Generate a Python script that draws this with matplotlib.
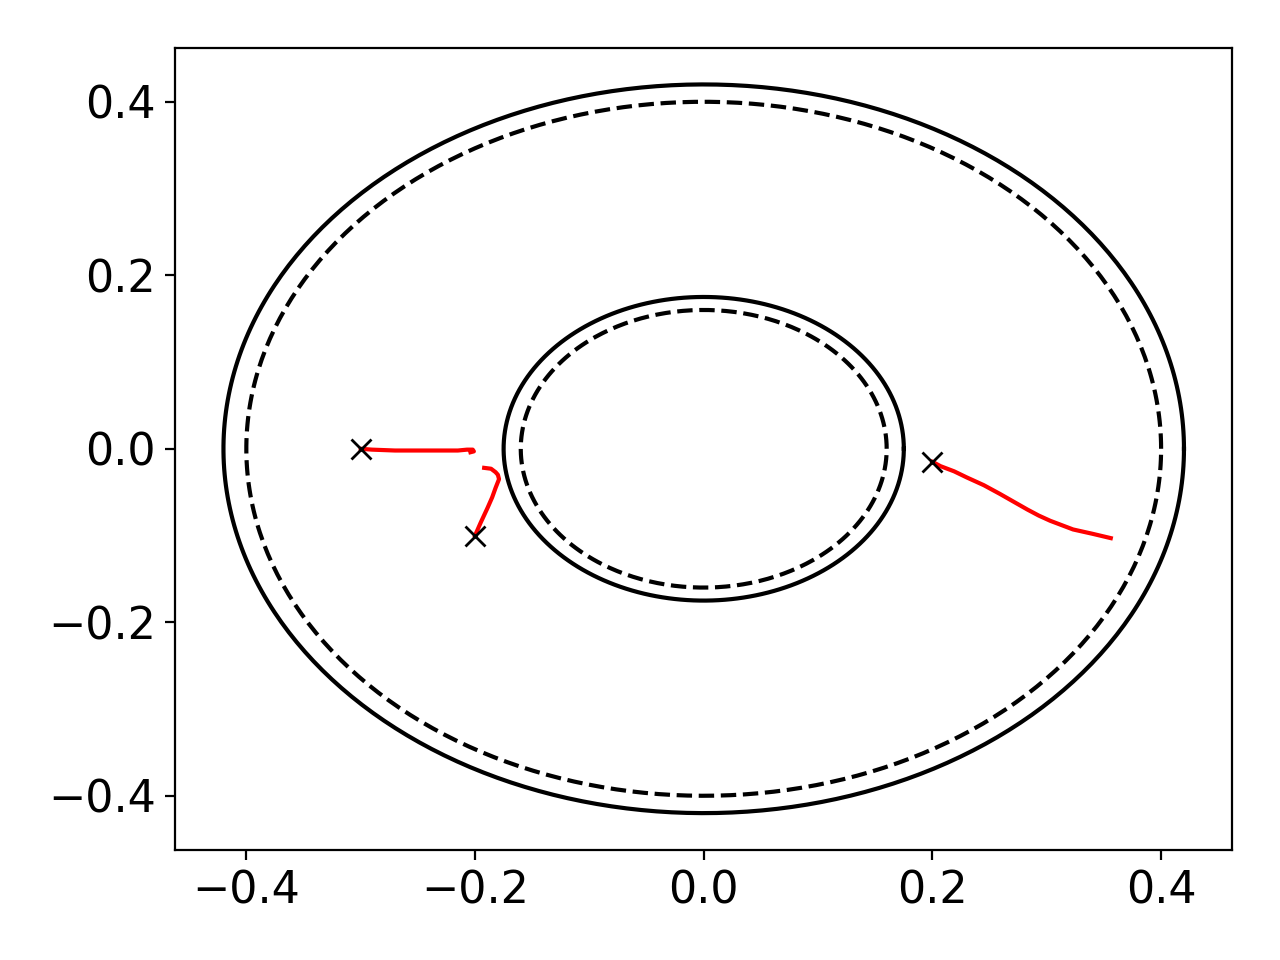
import numpy as np
import matplotlib.pyplot as plt

# boundary radii
r_outer_solid = 0.42
r_outer_dash = 0.40
r_inner_solid = 0.175
r_inner_dash = 0.16

# trajectories
traj1_x = [-0.300, -0.290, -0.270, -0.250, -0.230, -0.215, -0.207, -0.202, -0.201, -0.204]
traj1_y = [0.000, -0.001, -0.002, -0.002, -0.002, -0.002, -0.001, -0.001, -0.003, -0.004]

traj2_x = [-0.200, -0.195, -0.189, -0.185, -0.182, -0.179, -0.180, -0.182, -0.186, -0.192]
traj2_y = [-0.100, -0.085, -0.068, -0.056, -0.045, -0.035, -0.030, -0.027, -0.023, -0.022]

traj3_x = [0.200, 0.207, 0.219, 0.230, 0.245, 0.259, 0.271, 0.283, 0.293, 0.303, 0.313, 0.323, 0.340, 0.356]
traj3_y = [-0.015, -0.020, -0.026, -0.033, -0.042, -0.052, -0.061, -0.070, -0.077, -0.083, -0.088, -0.093, -0.098, -0.103]

starts_x = [-0.3, -0.2, 0.2]
starts_y = [0.0, -0.1, -0.015]

plt.rcParams['font.size'] = 16
fig, ax = plt.subplots(figsize=(6.4, 4.8), dpi=200)

t = np.linspace(0, 2*np.pi, 400)
ax.plot(r_outer_solid*np.cos(t), r_outer_solid*np.sin(t), 'k-')
ax.plot(r_outer_dash*np.cos(t), r_outer_dash*np.sin(t), 'k--')
ax.plot(r_inner_solid*np.cos(t), r_inner_solid*np.sin(t), 'k-')
ax.plot(r_inner_dash*np.cos(t), r_inner_dash*np.sin(t), 'k--')

ax.plot(traj1_x, traj1_y, 'r-')
ax.plot(traj2_x, traj2_y, 'r-')
ax.plot(traj3_x, traj3_y, 'r-')
ax.plot(starts_x, starts_y, 'kx', ms=7)

plt.tight_layout()
plt.savefig('out.png')
